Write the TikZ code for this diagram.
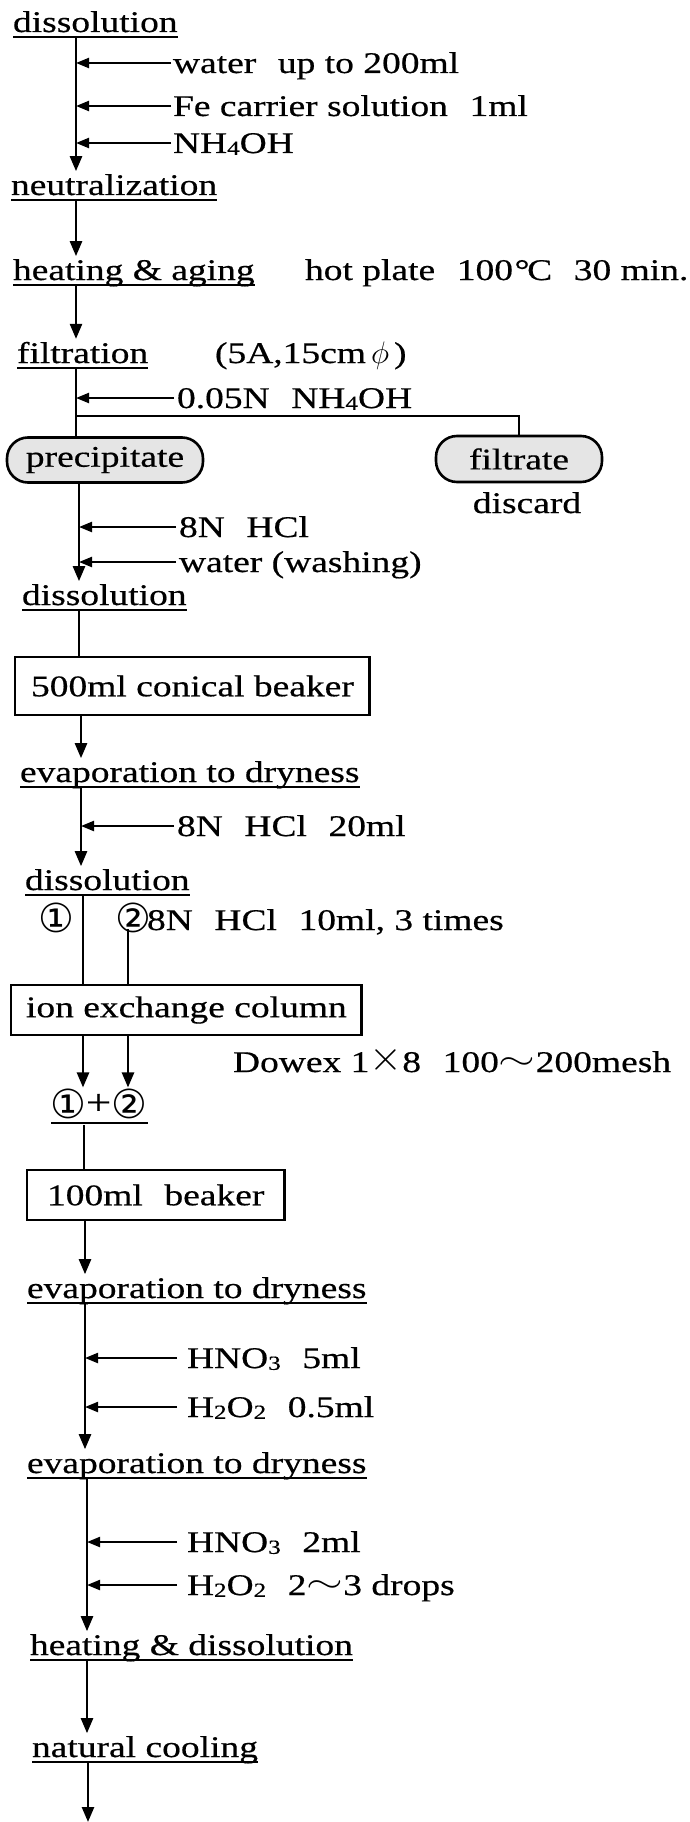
\documentclass[tikz,border=0pt]{standalone}
\usepackage{fontspec}
\setmainfont{Liberation Serif}[FakeStretch=1.25,FakeBold=0.5]
\newfontfamily\circfont{DejaVu Sans}
\usetikzlibrary{arrows.meta}
\newcommand{\chemsub}[1]{\raisebox{-0.06em}{\fontsize{20}{20}\selectfont #1}}
\newcommand{\gap}{\hspace{0.72em}}
\newcommand{\circd}[1]{{\fontsize{40}{40}\circfont #1}}
\newcommand{\underl}[1]{\draw[uline] ([yshift=-5pt]#1.base west) -- ([yshift=-5pt]#1.base east);}
\newcommand{\bigtimes}{\raisebox{0.05em}{\scalebox{1.7}{$\times$}}}
\newcommand{\wtilde}{\raisebox{0.1em}{\scalebox{1.9}[1.3]{$\sim$}}}
\begin{document}
\begin{tikzpicture}[x=1pt,y=-1pt,
  every node/.style={inner sep=0pt, outer sep=0pt, font=\fontsize{30}{34}\selectfont},
  lbl/.style={anchor=base west},
  flow/.style={line width=2.5pt, -{Triangle[length=15pt,width=12pt]}},
  feed/.style={line width=2.2pt, -{Triangle[length=13pt,width=10pt]}},
  plain/.style={line width=2.5pt},
  uline/.style={line width=1.8pt},
  boxed/.style={draw, line width=2.6pt, anchor=north west, inner xsep=16pt},
  pill/.style={draw, line width=2.6pt, rounded corners=21pt, fill=gray!20}
]
\useasboundingbox (0,0) rectangle (690,1822);

% x positions of the main line (slight drift)
\coordinate (xa) at (76,0);
\coordinate (xb) at (79,0);
\coordinate (xc) at (81,0);
\coordinate (xd) at (83,0);
\coordinate (xe) at (128,0);
\coordinate (xf) at (85,0);
\coordinate (xg) at (87,0);

% ---- block 1
\node[lbl] (s1) at (13,32) {dissolution};
\underl{s1}
\node[lbl] (f1) at (173,73) {water\gap up to 200ml};
\node[lbl] (f2) at (173,116) {Fe carrier solution\gap 1ml};
\node[lbl] (f3) at (173,153) {NH\chemsub{4}OH};
\node[lbl] (s2) at (11,195) {neutralization};
\underl{s2}
\draw[flow] ([yshift=-5pt]s1.base -| xa) -- ([yshift=3pt]s2.north -| xa);
\foreach \f in {f1,f2,f3}
  \draw[feed] ([yshift=10pt,xshift=-2pt]\f.base west) -- ([yshift=10pt]\f.base west -| xa);

\node[lbl] (s3) at (13,280) {heating \& aging};
\underl{s3}
\node[lbl] (hp) at (305,280) {hot plate\gap 100\kern0.05em\textdegree\kern-0.08em C\gap 30 min.};
\draw[flow] ([yshift=-6pt]s2.base -| xa) -- ([yshift=3pt]s3.north -| xa);

\node[lbl] (s4) at (17,363) {filtration};
\underl{s4}
\node[lbl] (fp) at (215,363) {(5A,15cm\,\scalebox{1.25}{$\phi$}\,)};
\draw[flow] ([yshift=-6pt]s3.base -| xa) -- ([yshift=3pt]s4.north -| xa);

\node[lbl] (f4) at (177,408) {0.05N\gap NH\chemsub{4}OH};
\node[pill, minimum width=196pt, minimum height=45pt] (prec) at (105,460) {precipitate};
\node[pill, minimum width=166pt, minimum height=46pt] (filt) at (519,459) {filtrate};
\node[anchor=base] (disc) at (527,513) {discard};
\draw[plain] ([yshift=-6pt]s4.base -| xa) -- (prec.north -| xa);
\draw[feed] ([yshift=10pt,xshift=-3pt]f4.base west) -- ([yshift=10pt]f4.base west -| xa);
\coordinate (br) at (76,416);
\draw[plain] (br) -| (filt.north);

% ---- block 2
\node[lbl] (f5) at (179,537) {8N\gap HCl};
\node[lbl] (f6) at (179,572) {water (washing)};
\node[lbl] (s5) at (22,605) {dissolution};
\underl{s5}
\draw[flow] (prec.south -| xb) -- ([yshift=3pt]s5.north -| xb);
\foreach \f in {f5,f6}
  \draw[feed] ([yshift=10pt,xshift=-3pt]\f.base west) -- ([yshift=10pt]\f.base west -| xb);

\node[boxed, minimum height=58pt] (b1) at (15,657) {500ml conical beaker};
\draw[plain] ([yshift=-6pt]s5.base -| xb) -- (b1.north -| xb);

\node[lbl] (s6) at (20,782) {evaporation to dryness};
\underl{s6}
\draw[flow] (b1.south -| xc) -- ([yshift=3pt]s6.north -| xc);
\node[lbl] (f7) at (177,836) {8N\gap HCl\gap 20ml};
\node[lbl] (s7) at (25,890) {dissolution};
\underl{s7}
\draw[flow] ([yshift=-6pt]s6.base -| xc) -- ([yshift=3pt]s7.north -| xc);
\draw[feed] ([yshift=10pt,xshift=-3pt]f7.base west) -- ([yshift=10pt]f7.base west -| xc);

% ---- ion exchange
\node[anchor=base west] (c1) at (38,932) {\circd{①}};
\node[anchor=base west] (c2) at (115,932) {\circd{②}};
\node[lbl] (c2t) at (147,930) {8N\gap HCl\gap 10ml, 3 times};
\node[boxed, minimum height=50pt, inner xsep=15pt] (b2) at (11,985) {ion exchange column};
\draw[plain] ([yshift=-6pt]s7.base -| xd) -- (b2.north -| xd);
\draw[plain] ([yshift=3pt]c2.base -| xe) -- (b2.north -| xe);
\node[lbl] (dw) at (233,1072) {Dowex 1\bigtimes 8\gap 100\wtilde 200mesh};

\node[anchor=base west] (cc) at (50,1118) {\circd{①}\raisebox{0.12em}{\fontsize{36}{36}\selectfont +}\circd{②}};
\draw[uline] (51,1123) -- (148,1123);
\coordinate (ccu) at (84,1125);
\draw[flow] (b2.south -| xd) -- ([yshift=1pt]cc.north -| xd);
\draw[flow] (b2.south -| xe) -- ([yshift=1pt]cc.north -| xe);

\node[boxed, minimum height=50pt, inner xsep=20pt] (b3) at (27,1170) {100ml\gap beaker};
\draw[plain] (ccu) -- (b3.north -| ccu);

% ---- final steps
\node[lbl] (s8) at (27,1298) {evaporation to dryness};
\underl{s8}
\draw[flow] (b3.south -| xf) -- ([yshift=3pt]s8.north -| xf);
\node[lbl] (f8) at (187,1368) {HNO\chemsub{3}\gap 5ml};
\node[lbl] (f9) at (187,1417) {H\chemsub{2}O\chemsub{2}\gap 0.5ml};
\node[lbl] (s9) at (27,1473) {evaporation to dryness};
\underl{s9}
\draw[flow] ([yshift=-6pt]s8.base -| xf) -- ([yshift=3pt]s9.north -| xf);
\foreach \f in {f8,f9}
  \draw[feed] ([yshift=10pt,xshift=-10pt]\f.base west) -- ([yshift=10pt]\f.base west -| xf);

\node[lbl] (f10) at (187,1552) {HNO\chemsub{3}\gap 2ml};
\node[lbl] (f11) at (187,1595) {H\chemsub{2}O\chemsub{2}\gap 2\wtilde 3 drops};
\node[lbl] (s10) at (30,1655) {heating \& dissolution};
\underl{s10}
\draw[flow] ([yshift=-6pt]s9.base -| xg) -- ([yshift=3pt]s10.north -| xg);
\foreach \f in {f10,f11}
  \draw[feed] ([yshift=10pt,xshift=-10pt]\f.base west) -- ([yshift=10pt]\f.base west -| xg);

\node[lbl] (s11) at (32,1757) {natural cooling};
\underl{s11}
\draw[flow] ([yshift=-6pt]s10.base -| xg) -- ([yshift=3pt]s11.north -| xg);
\coordinate (endp) at (88,1822);
\draw[flow] ([yshift=-6pt]s11.base -| endp) -- (endp);
\end{tikzpicture}
\end{document}
